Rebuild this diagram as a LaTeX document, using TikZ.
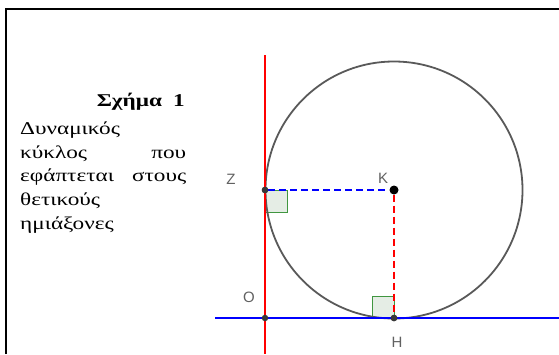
\documentclass[tikz,border=0pt]{standalone}
\usepackage{fontspec}
\setmainfont{Liberation Serif}
\newfontfamily\captfont[FakeStretch=1.29]{Liberation Serif}
\newfontfamily\labelfont{Liberation Sans}
\begin{document}
\begin{tikzpicture}[x=1pt,y=-1pt,
  txt/.style={anchor=base west,inner sep=0pt,font=\captfont\fontsize{18}{20}\selectfont},
  lbl/.style={font=\labelfont\fontsize{15}{18}\selectfont,text=black!62,inner sep=0pt},
  pt/.style={circle,fill=black!78,inner sep=0pt,minimum size=6.5pt},
  ctr/.style={circle,fill=black,inner sep=0pt,minimum size=9pt},
  rangle/.style={draw=green!45!black!75,fill=green!30!black!10,line width=1pt},
  axis/.style={line width=1.8pt}]
\useasboundingbox (0,0) rectangle (559,354);
\draw[line width=2pt] (6,354) -- (6,9) -- (559,9);
% text
\node[anchor=base east,inner sep=0pt,font=\captfont\fontsize{18}{20}\selectfont\bfseries] (t1) at (185,106.5) {\makebox[88pt]{Σχήμα\hfill 1}};
\node[txt] (t2) at (20,134) {Δυναμικός};
\node[txt] (t3) at (20,158) {\makebox[166pt]{κύκλος\hfill που}};
\node[txt] (t4) at (20,181.5) {\makebox[166pt]{εφάπτεται\hfill στους}};
\node[txt] (t5) at (20,205) {θετικούς};
\node[txt] (t6) at (20,229) {ημιάξονες};
% geometry
\coordinate (Kc) at (394,190);
\coordinate (Zc) at (265,190);
\coordinate (Oc) at (265,318);
\coordinate (Hc) at (394,318);
\coordinate (rt) at (265,55);
\coordinate (rb) at (265,354);
\coordinate (bl) at (215,318);
\coordinate (br) at (559,318);
\draw[rangle] (Zc) rectangle ++(22,22);
\draw[rangle] (Hc) rectangle ++(-22,-22);
\draw[line width=1.8pt,draw=black!65] (Kc) circle[radius=128.5];
\draw[axis,red] (rt) -- (rb);
\draw[axis,blue] (bl) -- (br);
\node[pt] (Z) at (Zc) {};
\node[pt] (O) at (Oc) {};
\node[pt] (H) at (Hc) {};
\node[ctr] (K) at (Kc) {};
\draw[line width=1.8pt,blue,dash pattern=on 7pt off 4pt] (Z) -- (K);
\draw[line width=1.8pt,red,dash pattern=on 7pt off 4pt] (K) -- (H);
\node[pt] at (Zc) {};
\node[pt] at (Hc) {};
% labels
\node[lbl] (lZ) at (231,179) {Z};
\node[lbl] (lK) at (383,178) {K};
\node[lbl] (lO) at (249,297) {O};
\node[lbl] (lH) at (397,342) {H};
\end{tikzpicture}
\end{document}
